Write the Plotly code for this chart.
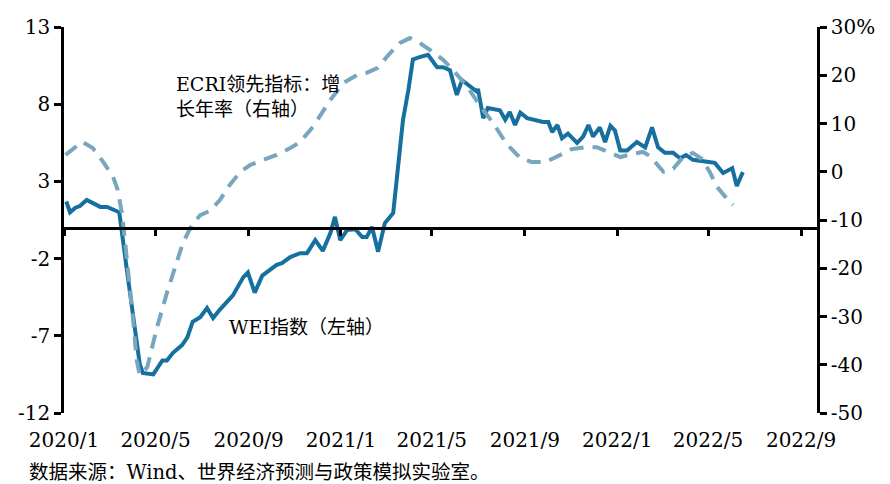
import plotly.graph_objects as go

# WEI weekly index (left axis)
wei_dates = [
    "2020-01-04", "2020-01-09", "2020-01-16", "2020-01-22", "2020-01-31", "2020-02-08",
    "2020-02-18", "2020-02-27", "2020-03-06", "2020-03-14", "2020-03-24", "2020-04-01",
    "2020-04-10", "2020-04-14", "2020-04-28", "2020-05-10", "2020-05-16", "2020-05-24",
    "2020-06-05", "2020-06-12", "2020-06-19", "2020-06-29", "2020-07-08", "2020-07-16",
    "2020-07-25", "2020-08-11", "2020-08-25", "2020-08-31", "2020-09-09", "2020-09-19",
    "2020-09-25", "2020-10-08", "2020-10-15", "2020-10-26", "2020-11-08", "2020-11-17",
    "2020-11-28", "2020-12-08", "2020-12-18", "2020-12-24", "2020-12-31", "2021-01-09",
    "2021-01-20", "2021-01-29", "2021-02-04", "2021-02-11", "2021-02-19", "2021-02-28",
    "2021-03-11", "2021-03-17", "2021-03-24", "2021-03-31", "2021-04-06", "2021-04-15",
    "2021-04-26", "2021-05-08", "2021-05-16", "2021-05-25", "2021-06-03", "2021-06-10",
    "2021-06-21", "2021-06-30", "2021-07-01", "2021-07-08", "2021-07-14", "2021-07-30",
    "2021-08-06", "2021-08-12", "2021-08-19", "2021-08-26", "2021-09-04", "2021-09-12",
    "2021-09-25", "2021-10-02", "2021-10-07", "2021-10-14", "2021-10-20", "2021-10-28",
    "2021-11-09", "2021-11-17", "2021-11-24", "2021-11-30", "2021-12-09", "2021-12-16",
    "2021-12-23", "2021-12-29", "2022-01-05", "2022-01-14", "2022-01-27", "2022-02-07",
    "2022-02-16", "2022-02-24", "2022-03-05", "2022-03-16", "2022-03-25", "2022-04-02",
    "2022-04-11", "2022-04-25", "2022-05-10", "2022-05-21", "2022-06-02", "2022-06-08",
    "2022-06-16",
]
wei_values = [
    1.7, 1.0, 1.3, 1.4, 1.8, 1.6,
    1.35, 1.35, 1.15, 1.0, -2.7, -5.8,
    -8.8, -9.4, -9.5, -8.6, -8.6, -8.1,
    -7.6, -7.1, -6.1, -5.8, -5.2, -5.85,
    -5.3, -4.4, -3.2, -2.9, -4.2, -3.1,
    -2.9, -2.4, -2.3, -1.9, -1.65, -1.65,
    -0.8, -1.5, -0.35, 0.7, -0.8, -0.15,
    -0.1, -0.6, -0.6, 0.05, -1.55, 0.3,
    0.95, 3.7, 7.0, 8.9, 10.9, 11.05,
    11.2, 10.4, 10.4, 10.2, 8.6, 9.55,
    9.1, 8.8, 9.0, 7.1, 7.75, 7.6,
    7.0, 7.5, 6.65, 7.45, 7.1, 7.0,
    6.85, 6.85, 6.2, 6.65, 5.8, 6.1,
    5.5, 5.9, 6.65, 5.9, 6.5, 5.55,
    6.6, 6.3, 5.0, 5.0, 5.55, 5.2,
    6.5, 5.2, 4.85, 4.85, 4.5, 4.7,
    4.4, 4.3, 4.2, 3.55, 3.85, 2.7,
    3.6,
]

# ECRI leading index, yoy growth % (right axis)
ecri_dates = [
    "2020-01-03", "2020-01-25", "2020-02-08", "2020-02-22", "2020-03-06", "2020-03-12",
    "2020-03-18", "2020-03-22", "2020-03-26", "2020-04-01", "2020-04-06", "2020-04-10",
    "2020-04-20", "2020-05-03", "2020-05-16", "2020-05-27", "2020-06-06", "2020-06-18",
    "2020-06-29", "2020-07-12", "2020-07-25", "2020-08-07", "2020-08-21", "2020-09-03",
    "2020-09-20", "2020-10-08", "2020-10-26", "2020-11-08", "2020-11-25", "2020-12-18",
    "2021-01-04", "2021-01-22", "2021-02-04", "2021-02-18", "2021-03-07", "2021-03-20",
    "2021-04-02", "2021-04-15", "2021-04-29", "2021-05-16", "2021-05-29", "2021-06-17",
    "2021-07-04", "2021-07-21", "2021-08-08", "2021-08-26", "2021-09-10", "2021-09-28",
    "2021-10-18", "2021-11-02", "2021-11-20", "2021-12-05", "2021-12-20", "2022-01-05",
    "2022-01-21", "2022-02-04", "2022-02-13", "2022-02-23", "2022-03-03", "2022-03-16",
    "2022-03-29", "2022-04-11", "2022-04-23", "2022-05-04", "2022-05-13", "2022-05-24",
    "2022-06-03",
]
ecri_values = [
    3.5, 6.2, 4.9, 2.0, -1.1, -3.8,
    -9.0, -14.8, -22.4, -30.1, -39.0, -42.1,
    -40.5, -32.2, -25.1, -19.7, -14.8, -11.0,
    -9.0, -8.1, -5.85, -2.75, 0.0, 1.4,
    2.4, 3.5, 4.9, 6.2, 9.3, 14.9,
    18.4, 20.0, 20.5, 21.5, 24.6, 26.7,
    27.7, 26.7, 25.2, 23.2, 21.1, 17.6,
    13.6, 10.1, 5.75, 2.85, 2.0, 2.0,
    3.5, 4.7, 5.1, 5.1, 4.1, 3.05,
    3.7, 4.1, 3.3, 1.4, 0.0, 0.6,
    3.05, 3.9, 2.65, -0.25, -3.15, -5.2,
    -6.9,
]

x_tickvals = ["2020-01-01", "2020-05-01", "2020-09-01", "2021-01-01", "2021-05-01",
              "2021-09-01", "2022-01-01", "2022-05-01", "2022-09-01"]
x_ticktext = ["2020/1", "2020/5", "2020/9", "2021/1", "2021/5",
              "2021/9", "2022/1", "2022/5", "2022/9"]
left_ticks = [-12, -7, -2, 3, 8, 13]
left_ticktext = ["-12", "-7", "-2", "3", "8", "13"]
right_ticks = [-50, -40, -30, -20, -10, 0, 10, 20, 30]
right_ticktext = ["-50", "-40", "-30", "-20", "-10", "0", "10", "20", "30%"]

x_range = ["2020-01-01", "2022-09-22"]
font_family = "DejaVu Serif, Noto Sans CJK SC, serif"
note_family = "DejaVu Serif, Noto Sans CJK SC, serif"

fig = go.Figure()
fig.add_trace(go.Scatter(
    x=ecri_dates, y=ecri_values, yaxis="y2", mode="lines",
    line=dict(color="#78a6be", width=4, dash="14px,9px"),
    name="ECRI",
))
fig.add_trace(go.Scatter(
    x=wei_dates, y=wei_values, mode="lines",
    line=dict(color="#16709f", width=4),
    name="WEI",
))
# invisible trace to bring up the axis drawn through zero
fig.add_trace(go.Scatter(x=x_range, y=[0, 0], xaxis="x2", mode="lines",
                         line=dict(width=0), hoverinfo="skip", showlegend=False))

axis_common = dict(showgrid=False, zeroline=False, automargin=False)
tick_style = dict(ticks="outside", ticklen=7, tickwidth=2.5, tickcolor="black")

fig.update_layout(
    width=890, height=484,
    margin=dict(l=64, r=73, t=27, b=71),
    plot_bgcolor="white", paper_bgcolor="white",
    showlegend=False,
    font=dict(family=font_family, size=20, color="black"),
    xaxis=dict(
        type="date", range=x_range, tickvals=x_tickvals, ticktext=x_ticktext,
        showline=False, ticks="outside", ticklen=9, tickcolor="rgba(0,0,0,0)",
        **axis_common,
    ),
    xaxis2=dict(
        type="date", range=x_range, tickvals=x_tickvals, overlaying="x",
        anchor="free", position=12 / 25, matches="x",
        showline=True, linecolor="black", linewidth=2.5,
        showticklabels=False, **tick_style, **axis_common,
    ),
    yaxis=dict(
        range=[-12, 13], tickvals=left_ticks, ticktext=left_ticktext,
        showline=True, linecolor="black", linewidth=2.5,
        **tick_style, **axis_common,
    ),
    yaxis2=dict(
        range=[-50, 30], tickvals=right_ticks, ticktext=right_ticktext,
        overlaying="y", side="right",
        showline=True, linecolor="black", linewidth=2.5,
        **tick_style, **axis_common,
    ),
    annotations=[
        dict(x="2020-05-25", y=8.5, xref="x", yref="y",
             text="ECRI领先指标：增<br>长年率（右轴）", showarrow=False,
             xanchor="left", yanchor="middle", align="left",
             font=dict(family=note_family, size=19)),
        dict(x="2020-08-03", y=-6.43, xref="x", yref="y",
             text="WEI指数（左轴）", showarrow=False,
             xanchor="left", yanchor="middle", align="left",
             font=dict(family=note_family, size=19)),
        dict(x=-0.049, y=-0.153, xref="paper", yref="paper",
             text="数据来源：Wind、世界经济预测与政策模拟实验室。", showarrow=False,
             xanchor="left", yanchor="middle", align="left",
             font=dict(family=note_family, size=19.5)),
    ],
)

# drop the default page margin so the figure sits at the window's corner
fig.write_html("out.html", config={"displayModeBar": False},
               post_script="document.body.style.margin = '0';")
